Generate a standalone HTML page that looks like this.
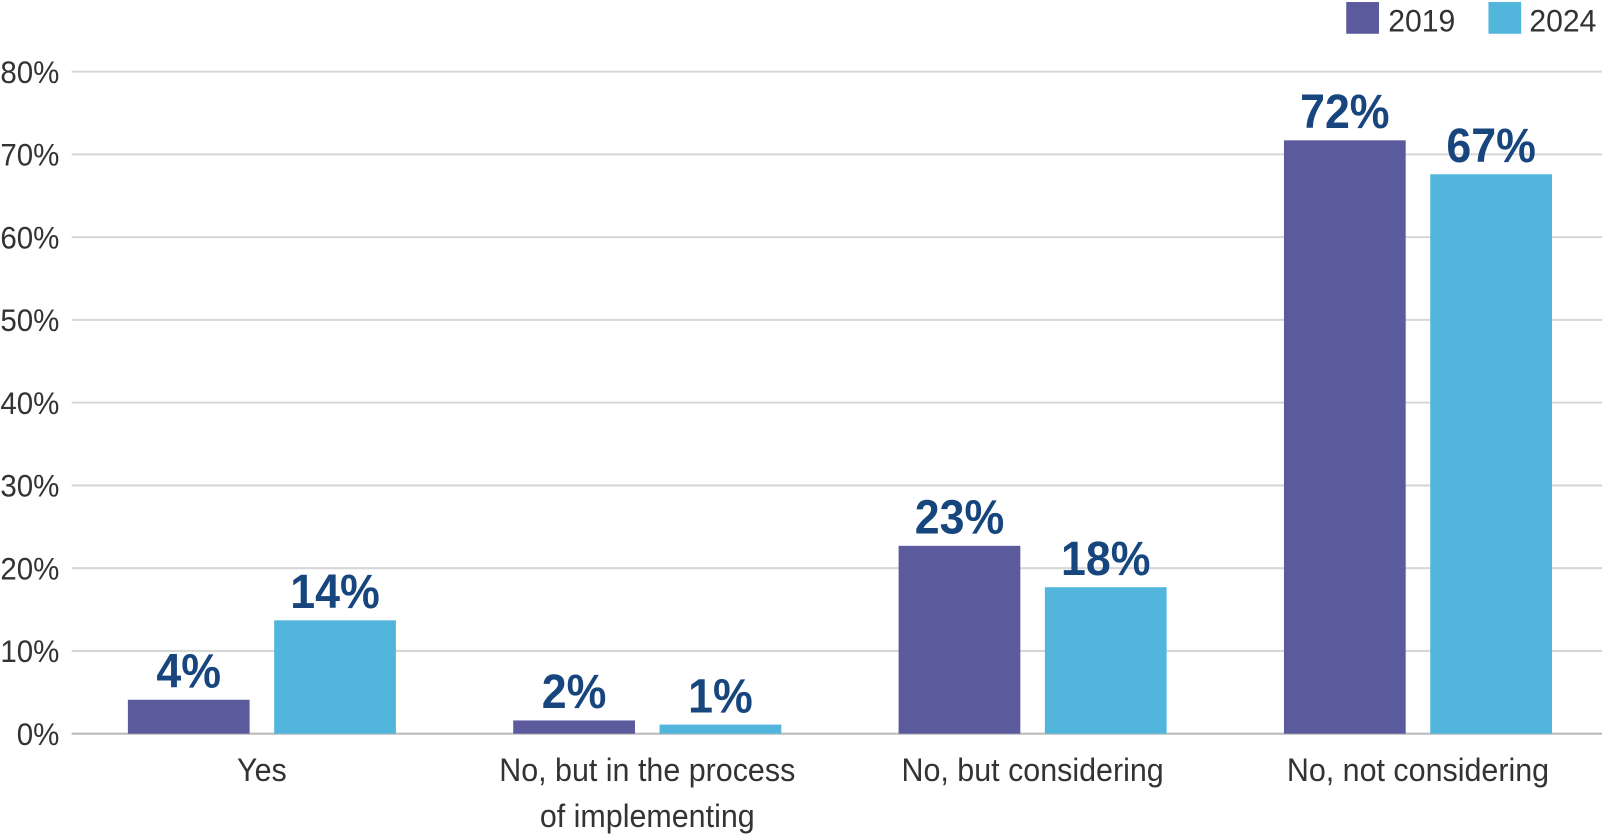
<!DOCTYPE html>
<html><head><meta charset="utf-8"><style>
html,body{margin:0;padding:0;background:#fff;width:1602px;height:835px;overflow:hidden;}
svg{display:block;position:absolute;left:0;top:0;font-family:"Liberation Sans",sans-serif;}
</style></head><body>
<svg id="chart" width="1602" height="835" viewBox="0 0 1566 816" preserveAspectRatio="none" xmlns="http://www.w3.org/2000/svg">
<g id="grid"></g>
<g id="yticks"></g>
<g id="bars"></g>
<g id="xlabels"></g>
<g>
<rect x="1316" y="2" width="32" height="31" fill="#5b5a9c"/>
<text transform="translate(1357,31) scale(0.95,1)" font-size="31" fill="#333">2019</text>
<rect x="1455" y="2" width="32" height="31" fill="#52b5dc"/>
<text transform="translate(1495,31) scale(0.95,1)" font-size="31" fill="#333">2024</text>
</g>
</svg>
<script>
const categories=[["Yes"],["No, but in the process","of implementing"],["No, but considering"],["No, not considering"]];
const values2019=[4.1,1.6,22.7,71.7];
const values2024=[13.7,1.1,17.7,67.6];
const labels2019=["4%","2%","23%","72%"];
const labels2024=["14%","1%","18%","67%"];
const yTicks=[0,10,20,30,40,50,60,70,80];
const yTickLabels=["0%","10%","20%","30%","40%","50%","60%","70%","80%"];

const NS="http://www.w3.org/2000/svg";
const y=v=>717-v*(647/80);
const groupX=i=>125+i*376.7;
function mk(tag,attrs,parent){const e=document.createElementNS(NS,tag);for(const k in attrs)e.setAttribute(k,attrs[k]);parent.appendChild(e);return e;}
const grid=document.getElementById('grid'),yt=document.getElementById('yticks'),bars=document.getElementById('bars'),xl=document.getElementById('xlabels');
yTicks.forEach((t,i)=>{
  const l=mk('line',{x1:70,x2:1566,y1:y(t),y2:y(t),stroke:t===0?'#bbb':'#d6d6d6','stroke-width':2},grid);
  
  
  const tx=mk('text',{transform:`translate(58,${y(t)+11}) scale(0.93,1)`,'text-anchor':'end','font-size':31,fill:'#333'},yt);
  tx.textContent=yTickLabels[i];
  
  
});
const series=[[values2019,labels2019,'#5b5a9c',0,'2019'],[values2024,labels2024,'#52b5dc',143,'2024']];
categories.forEach((c,i)=>{
  series.forEach(([vals,labs,col,off,name])=>{
    const x=groupX(i)+off;
    const r=mk('rect',{x:x,y:y(vals[i]),width:119,height:717-y(vals[i]),fill:col},bars);
    
    
    const t=mk('text',{transform:`translate(${x+59.5},${y(vals[i])-12}) scale(0.93,1)`,'text-anchor':'middle','font-size':47,'font-weight':'bold',fill:'#17457e'},bars);
    t.textContent=labs[i];
    
    
  });
  c.forEach((line,j)=>{
    const t=mk('text',{transform:`translate(${groupX(i)+131},${763+j*45}) scale(0.93,1)`,'text-anchor':'middle','font-size':32,fill:'#333'},xl);
    t.textContent=line;
    
    
  });
});
</script>
</body></html>
